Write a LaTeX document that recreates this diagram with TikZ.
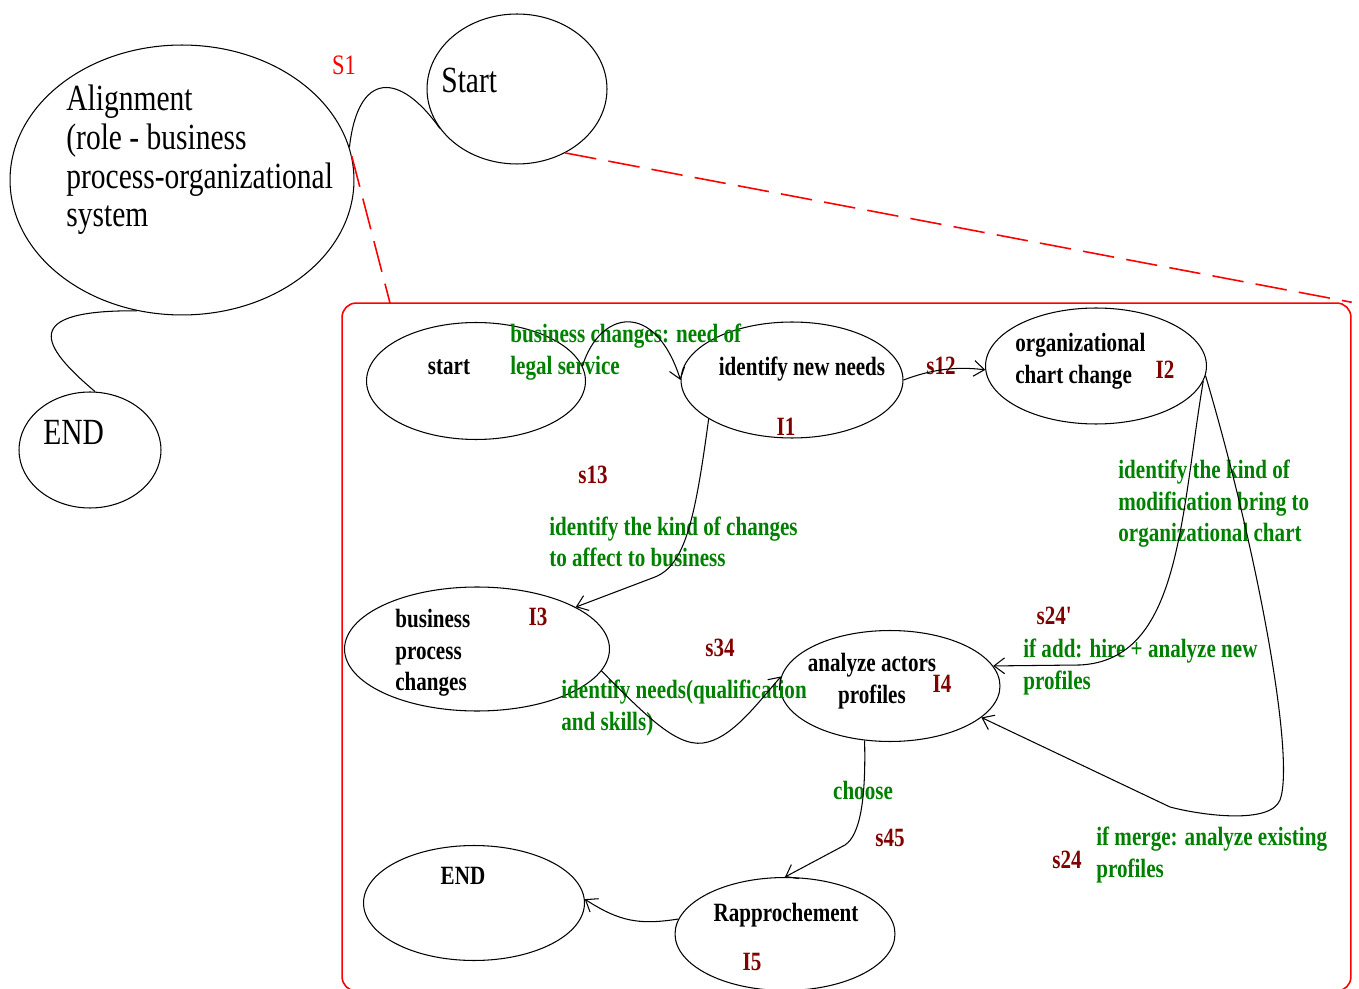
\documentclass[tikz,border=0pt]{standalone}
\usepackage{fontspec}
\setmainfont{Liberation Serif}[FakeStretch=0.8]
\usetikzlibrary{shapes.geometric,arrows.meta}

\definecolor{notegreen}{RGB}{0,128,0}
\definecolor{tagred}{RGB}{128,0,0}

\tikzset{
  state/.style={draw, ellipse, line width=0.6pt, inner sep=0pt},
  bigtext/.style={font=\fontsize{21}{22}\selectfont, inner sep=0pt},
  intext/.style={font=\fontsize{15}{18}\selectfont\bfseries, inner sep=0pt},
  note/.style={intext, text=notegreen, anchor=west, align=left},
  tag/.style={intext, text=tagred},
  link/.style={line width=0.6pt, ->},
  zoomline/.style={red, line width=0.9pt, dash pattern=on 18pt off 7pt}
}

\begin{document}
\begin{tikzpicture}[x=0.02cm, y=-0.02cm, >={Straight Barb[length=6pt,width=9pt]}]
        \useasboundingbox (0,0) rectangle (1359,989);

        % Outer states
        \node[state, minimum width=6.88cm, minimum height=5.4cm] (align) at (182,180) {};
        \node[state, minimum width=3.6cm, minimum height=3.0cm] (startO) at (517,89) {};
        \node[state, minimum width=2.84cm, minimum height=2.32cm] (endO) at (90,450) {};

        \node[bigtext, anchor=west, align=left] at (66,160) {Alignment\\(role - business\\process-organizational\\system};
        \node[bigtext, anchor=west] at (441,80) {Start};
        \node[bigtext, anchor=west] at (43,432) {END};
        \node[font=\fontsize{16}{18}\selectfont, text=red, inner sep=0pt] at (344,65) {S1};

        % Outer links
        \draw[line width=0.6pt] (align.11) .. controls (358,70) and (400,72) .. (startO.207);
        \draw[line width=0.6pt] (align.251) .. controls (20,310) and (40,345) .. (endO.85);

        % Zoom frame
        \node[draw=red, line width=0.9pt, rounded corners=8pt, minimum width=20.18cm, minimum height=13.76cm, inner sep=0pt] (frame) at (846.5,647) {};
        \coordinate (cut) at (390,303);
        \draw[zoomline] (align.8) -- (cut);
        \draw[zoomline] (startO.307) -- (frame.north east);

        % Inner states
        \node[state, minimum width=4.38cm, minimum height=2.34cm] (start) at (476,381) {};
        \node[state, minimum width=4.44cm, minimum height=2.32cm] (needs) at (792,380) {};
        \node[state, minimum width=4.42cm, minimum height=2.32cm] (chart) at (1096,366) {};
        \node[state, minimum width=5.3cm, minimum height=2.48cm] (bpc) at (477,649) {};
        \node[state, minimum width=4.4cm, minimum height=2.22cm] (actors) at (890,686) {};
        \node[state, minimum width=4.42cm, minimum height=2.3cm] (endI) at (474,903) {};
        \node[state, minimum width=4.4cm, minimum height=2.26cm] (rappr) at (785,934) {};

        \node[intext] at (449,367) {start};
        \node[intext] at (802,369) {identify new needs};
        \node[intext, anchor=west, align=left] at (1015,361) {organizational\\chart change};
        \node[intext, anchor=west, align=left] at (395,653) {business\\process\\changes};
        \node[intext, align=center] at (872,681) {analyze actors\\profiles};
        \node[intext] at (463,876) {END};
        \node[intext] at (786,915) {Rapprochement};

        % Tags
        \node[tag] at (786,427) {I1};
        \node[tag] at (1165,370) {I2};
        \node[tag] at (538,617) {I3};
        \node[tag] at (942,684) {I4};
        \node[tag] at (752,962) {I5};
        \node[tag] at (941,366) {s12};
        \node[tag] at (593,475) {s13};
        \node[tag] at (720,648) {s34};
        \node[tag] at (1055,616) {s24\textquotesingle};
        \node[tag] at (890,838) {s45};
        \node[tag] at (1067,860) {s24};

        % Notes
        \node[note] at (510,352) {business changes: need of\\legal service};
        \node[note] at (549,542) {identify the kind of changes\\to affect to business};
        \node[note] at (1118,504) {identify the kind of\\modification bring to\\organizational chart};
        \node[note] at (561,708) {identify needs(qualification\\and skills)};
        \node[note] at (1023,667) {if add: hire + analyze new\\profiles};
        \node[note] at (1096,855) {if merge: analyze existing\\profiles};
        \node[intext, text=notegreen] at (863,790) {choose};

        % Inner links
        \draw[link] (start.8) .. controls (600,310) and (655,300) .. (needs.180);
        \draw[link] (needs.east) .. controls (930,370) and (955,366) .. (chart.182);
        \draw[link] (needs.205) .. controls (695,520) and (685,565) .. (655,577) -- (bpc.23);
        \draw[link] (chart.352) .. controls (1180,520) and (1180,660) .. (1080,665) -- (actors.11);
        \draw[link] (chart.355) .. controls (1260,560) and (1295,760) .. (1280,800)
                    .. controls (1270,825) and (1200,815) .. (1170,807) -- (actors.341);
        \draw[link] (bpc.350) .. controls (650,720) and (680,750) .. (708,742)
                    .. controls (735,735) and (760,700) .. (actors.175);
        \draw[link] (actors.245) .. controls (866,800) and (860,835) .. (845,845) -- (rappr.north);
        \draw[link] (rappr.172) .. controls (640,925) and (620,922) .. (endI.2);
\end{tikzpicture}
\end{document}
